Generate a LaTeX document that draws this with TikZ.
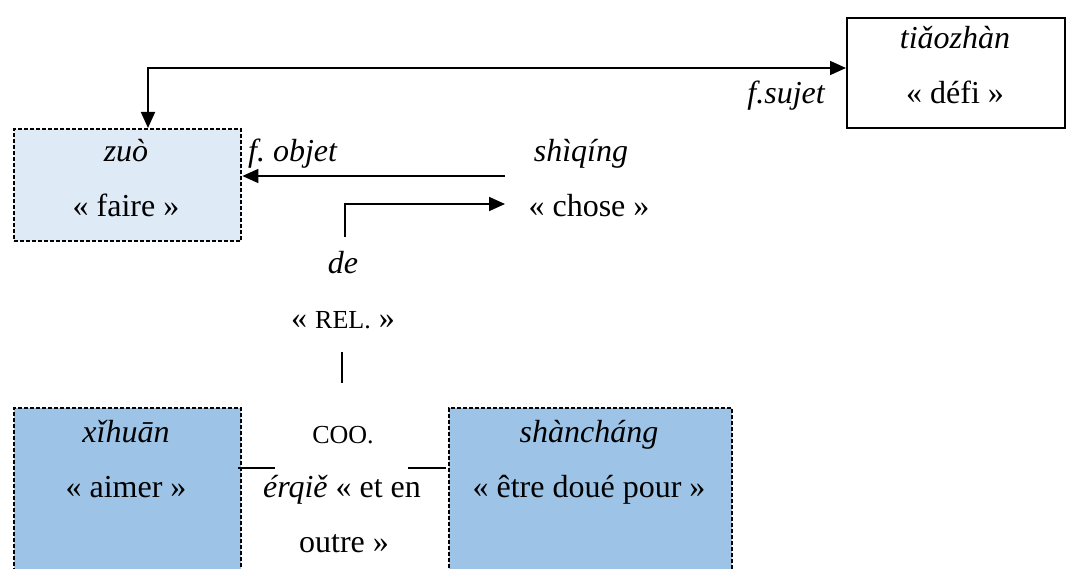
\documentclass[tikz,border=0pt]{standalone}
\usepackage{fontspec}
\setmainfont{Liberation Serif}
\usetikzlibrary{arrows.meta}
\definecolor{paleblue}{HTML}{DEEAF6}
\definecolor{midblue}{HTML}{9DC3E6}
\begin{document}
\frenchspacing
\begin{tikzpicture}[x=1pt,y=-1pt,
  txt/.style={font=\fontsize{32}{38}\selectfont, inner sep=0pt, anchor=base},
  it/.style={txt, font=\fontsize{32}{38}\selectfont\itshape},
  dbox/.style={draw, line width=2.4pt, dash pattern=on 4pt off 2pt, inner sep=0pt, anchor=north west},
  sbox/.style={draw, line width=1.8pt, inner sep=0pt, anchor=north west},
  ln/.style={line width=1.8pt},
  tip/.tip={Triangle[length=16pt,width=14pt]},
  arr/.style={ln, -tip},
  bothends/.style={ln, tip-tip},
]
\clip (0,0) rectangle (1073,569);
\fill[white] (0,0) rectangle (1073,569);
% boxes
\node[dbox, fill=paleblue, minimum width=227pt, minimum height=112pt] (zuo) at (13,128) {};
\node[sbox, fill=white, minimum width=218pt, minimum height=110pt] (tiao) at (846,17) {};
\node[dbox, fill=midblue, minimum width=227pt, minimum height=190pt] (xihuan) at (13,407) {};
\node[dbox, fill=midblue, minimum width=283pt, minimum height=190pt] (shan) at (448,407) {};
% texts
\node[it] (zuot) at (126,162) {zuò};
\node[txt] (faire) at (126,217) {« faire »};
\node[it] (tiaot) at (955,49) {tiǎozhàn};
\node[txt] (defi) at (955,104) {« défi »};
\node[it, anchor=base east] (fsujet) at (825,104) {f.sujet};
\node[it, anchor=base west] (fobjet) at (248,162) {f. objet};
\node[it] (shiqing) at (581,162) {shìqíng};
\node[txt] (chose) at (589,217) {« chose »};
\node[it] (de) at (343,273) {de};
\node[txt] (rel) at (343,328) {« {\fontsize{26}{30}\selectfont REL.} »};
\node[txt] (coo) at (343,443) {\fontsize{26}{30}\selectfont COO.};
\node[txt] (erqie) at (342,497) {\itshape érqiě\upshape{} « et en};
\node[txt] (outre) at (344,552) {outre »};
\node[it] (xihuant) at (126,442) {xǐhuān};
\node[txt] (aimer) at (126,497) {« aimer »};
\node[it] (shant) at (589,442) {shàncháng};
\node[txt] (doue) at (589,497) {« être doué pour »};
% connectors
\coordinate (topL) at (148,68);
\draw[bothends] (zuo.north -| topL) |- (tiao.west |- topL);
\coordinate (ob) at (505,176);
\draw[arr] (ob) -- (zuo.east |- ob);
\coordinate (deTop) at (345,237);
\coordinate (chEnd) at (505,204);
\draw[arr] (deTop) |- (chEnd);
\coordinate (relLow) at (342,352);
\coordinate (cooUp) at (342,383);
\draw[ln] (relLow) -- (cooUp);
\coordinate (lk1) at (275,468);
\coordinate (lk2) at (408,468);
\draw[ln] ([xshift=-4pt]xihuan.east |- lk1) -- (lk1);
\draw[ln] (lk2) -- ([xshift=-2pt]shan.west |- lk2);
\end{tikzpicture}
\end{document}
